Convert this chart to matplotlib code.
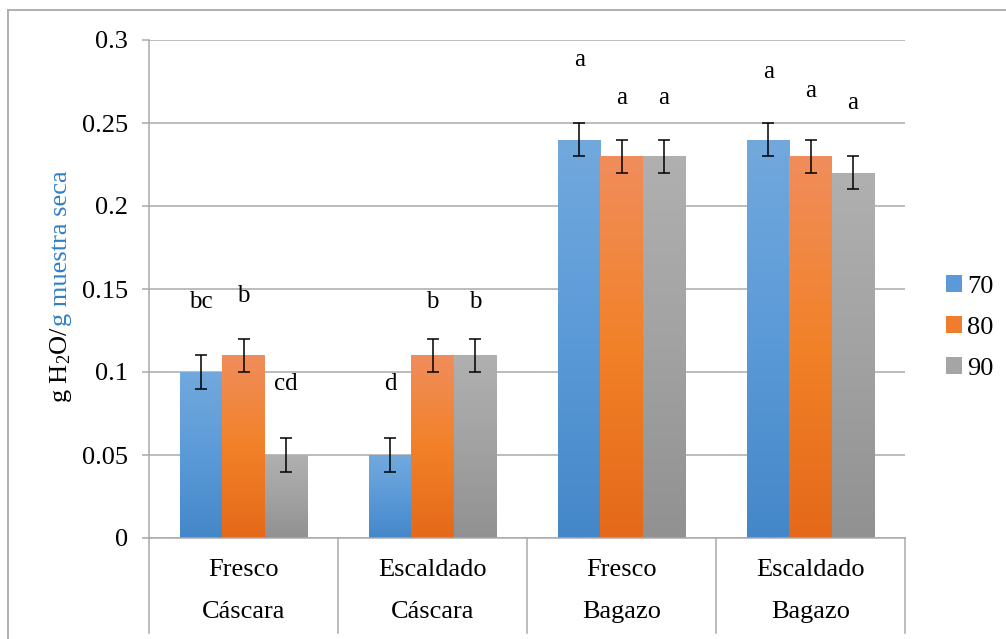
import numpy as np
import matplotlib
matplotlib.use("Agg")
import matplotlib.pyplot as plt
from matplotlib.colors import LinearSegmentedColormap
from matplotlib.patches import Patch
from matplotlib.lines import Line2D
import matplotlib.transforms as mtransforms

plt.rcParams["font.family"] = ["Liberation Serif", "DejaVu Serif"]
plt.rcParams["mathtext.fontset"] = "custom"
plt.rcParams["mathtext.rm"] = "Liberation Serif"
plt.rcParams["mathtext.it"] = "Liberation Serif:italic"

# Data
treatments = ["Fresco", "Escaldado", "Fresco", "Escaldado"]
materials = ["Cáscara", "Cáscara", "Bagazo", "Bagazo"]
temps = ["70", "80", "90"]
moisture = {
    "70": [0.10, 0.05, 0.24, 0.24],
    "80": [0.11, 0.11, 0.23, 0.23],
    "90": [0.05, 0.11, 0.23, 0.22],
}
err = 0.01
letters = {
    "70": ["bc", "d", "a", "a"],
    "80": ["b", "b", "a", "a"],
    "90": ["cd", "b", "a", "a"],
}
letter_y = {
    "70": [0.142, 0.093, 0.288, 0.281],
    "80": [0.146, 0.142, 0.265, 0.269],
    "90": [0.093, 0.142, 0.265, 0.262],
}

# gradient stops per series: bottom -> top
stops = {
    "70": ["#4487c8", "#5b9ad8", "#72a9dd"],
    "80": ["#e4691a", "#f28128", "#f08d5c"],
    "90": ["#919191", "#a2a2a2", "#b0b0b0"],
}
legend_colors = {"70": "#5b9ad8", "80": "#f07d2e", "90": "#a5a5a5"}

GRID = "#a9a9a9"
FS = 19
SERIF = ["Liberation Serif", "DejaVu Serif"]

fig = plt.figure(figsize=(10.06, 6.39), dpi=100)
ax = fig.add_axes([149 / 1006, 101 / 639, 756 / 1006, 498 / 639])

w = 0.224
x = np.arange(len(treatments))
grad = np.linspace(0, 1, 256).reshape(-1, 1)

for i, t in enumerate(temps):
    xs = x + (i - 1) * w
    bars = ax.bar(xs, moisture[t], w, color="none", edgecolor="none", zorder=2)
    cmap = LinearSegmentedColormap.from_list("g" + t, stops[t])
    for b, xc, h in zip(bars, xs, moisture[t]):
        im = ax.imshow(grad, cmap=cmap, origin="lower", aspect="auto",
                       extent=[xc - w / 2, xc + w / 2, 0, h], zorder=2)
        im.set_clip_path(b)
    ax.errorbar(xs, moisture[t], yerr=err, fmt="none", ecolor="black",
                elinewidth=1.1, capsize=4.3, capthick=1.1, zorder=3)
    for xc, lab, ly in zip(xs, letters[t], letter_y[t]):
        ax.text(xc, ly, lab, ha="center", va="center", fontsize=18, family=SERIF)

ax.set_xlim(-0.5, 3.5)
ax.set_ylim(0, 0.3)
ax.set_yticks(np.arange(0, 0.31, 0.05))
ax.set_yticklabels(["0", "0.05", "0.1", "0.15", "0.2", "0.25", "0.3"], family=SERIF)
ax.yaxis.grid(True, color=GRID, linewidth=1.1)
ax.set_axisbelow(True)
ax.set_xticks([])
ax.tick_params(axis="y", direction="out", length=5, width=1.1, color=GRID,
               labelsize=FS, pad=10)
for s in ["top", "right"]:
    ax.spines[s].set_visible(False)
for s in ["left", "bottom"]:
    ax.spines[s].set_color(GRID)
    ax.spines[s].set_linewidth(1.1)

# two-level category axis
trans = mtransforms.blended_transform_factory(ax.transData, ax.transAxes)
for xb in np.arange(-0.5, 4.0, 1.0):
    ax.add_line(Line2D([xb, xb], [0, -0.19], transform=trans, color=GRID,
                       linewidth=1.1, clip_on=False))
for xc, tr, mat in zip(x, treatments, materials):
    ax.text(xc, -0.064, tr, transform=trans, ha="center", va="center",
            fontsize=FS, family=SERIF)
    ax.text(xc, -0.149, mat, transform=trans, ha="center", va="center",
            fontsize=FS, family=SERIF)

# legend
handles = [Patch(facecolor=legend_colors[t], edgecolor="none") for t in temps]
fig.legend(handles, temps, loc="center left", bbox_to_anchor=(946 / 1006, 0.4875),
           frameon=False, prop={"family": SERIF, "size": FS}, handlelength=0.6,
           handleheight=0.6, handletextpad=0.2, labelspacing=0.7, borderpad=0,
           borderaxespad=0)

# y label in two colours, sharing one baseline
x0, y0 = 67 / 1006, (639 - 403) / 639
t1 = fig.text(x0, y0, r"g H$_2$O/", rotation=90, rotation_mode="anchor",
              ha="left", va="baseline", fontsize=FS, color="black", family=SERIF)
renderer = fig.canvas.get_renderer()
ext = t1.get_window_extent(renderer)
fig.text(x0, y0 + ext.height / fig.bbox.height, "g muestra seca", rotation=90,
         rotation_mode="anchor", ha="left", va="baseline", fontsize=FS,
         color="#2f7fc8", family=SERIF)

# chart frame
fig.add_artist(Line2D([8 / 1006, 1], [629 / 639, 629 / 639], color=GRID, linewidth=1.3))
fig.add_artist(Line2D([8 / 1006, 8 / 1006], [0, 629 / 639], color=GRID, linewidth=1.3))

fig.savefig("out.png", dpi=100)
